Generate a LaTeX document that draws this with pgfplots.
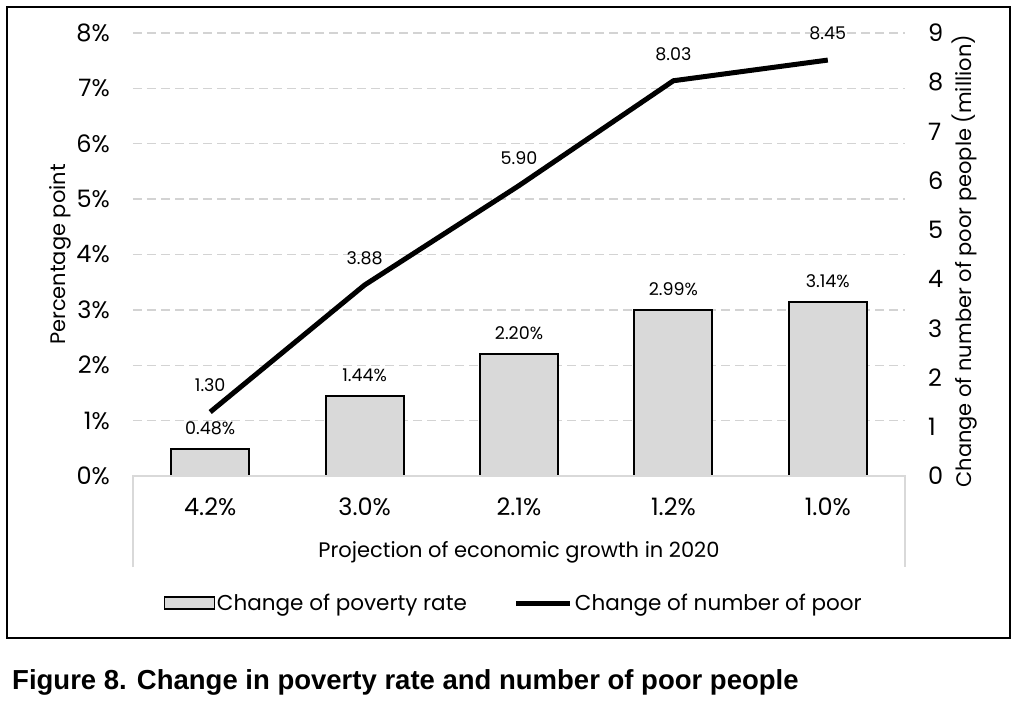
\documentclass[border=0pt]{standalone}
\usepackage{fontspec}
\setmainfont{Poppins}
\newfontfamily\capfont{Liberation Sans}
\usepackage{pgfplots}
\pgfplotsset{compat=1.18}
\definecolor{barfill}{HTML}{D9D9D9}
\definecolor{gridc}{HTML}{D3D3D3}
\definecolor{basec}{HTML}{D9D9D9}
\pgfplotsset{
  barleg/.style={legend image code/.code={\draw[#1] (0pt,-6pt) rectangle (50pt,6pt);}},
  lineleg/.style={legend image code/.code={\draw[#1] (0pt,0pt) -- (54pt,0pt);}},
}
\begin{document}
\begin{tikzpicture}
\path[use as bounding box] (-133pt,-238pt) rectangle (883pt,476pt);
\begin{axis}[
  at={(0pt,0pt)}, anchor=south west,
  scale only axis, width=772pt, height=443pt,
  xmin=-0.5, xmax=4.5, ymin=0, ymax=8,
  axis line style={draw=none}, major tick length=0pt,
  ytick={0,1,2,3,4,5,6,7,8},
  yticklabels={0\%,1\%,2\%,3\%,4\%,5\%,6\%,7\%,8\%},
  xtick={0,1,2,3,4},
  xticklabels={4.2\%,3.0\%,2.1\%,1.2\%,1.0\%},
  ymajorgrids, xmajorgrids=false,
  grid style={gridc, line width=1.3pt, dash pattern=on 9pt off 5pt},
  yticklabel style={anchor=east, inner sep=0pt, xshift=-23pt, font=\fontsize{24}{28}\selectfont},
  xticklabel style={anchor=center, inner sep=0pt, yshift=-31pt, font=\fontsize{24}{28}\selectfont},
  ylabel={Percentage point},
  ylabel style={at={(axis description cs:-0.0946,0.5)}, anchor=center, font=\fontsize{21}{24}\selectfont},
  xlabel={Projection of economic growth in 2020},
  xlabel style={at={(axis description cs:0.5,-0.1716)}, anchor=center, font=\fontsize{21}{24}\selectfont},
  ybar, bar width=78pt,
  /pgf/number format/assume math mode=true,
  nodes near coords={\pgfmathprintnumber[fixed,fixed zerofill,precision=2]{\pgfplotspointmeta}\%},
  every node near coord/.append style={anchor=center, yshift=21pt, inner sep=0pt, font=\fontsize{17.5}{20}\selectfont, text=black},
]
\addplot[fill=barfill, draw=black, line width=2pt] coordinates {(0,0.48) (1,1.44) (2,2.20) (3,2.99) (4,3.14)};
\end{axis}
\draw[basec, line width=1.5pt] (0pt,-91pt) -- (0pt,0pt) -- (772pt,0pt) -- (772pt,-91pt);
\begin{axis}[
  at={(0pt,0pt)}, anchor=south west,
  scale only axis, width=772pt, height=443pt,
  xmin=-0.5, xmax=4.5, ymin=0, ymax=9,
  axis line style={draw=none}, major tick length=0pt,
  xtick=\empty,
  ytick={0,1,2,3,4,5,6,7,8,9},
  yticklabels={0,1,2,3,4,5,6,7,8,9},
  yticklabel pos=right,
  yticklabel style={anchor=west, inner sep=0pt, xshift=23pt, font=\fontsize{24}{28}\selectfont},
  ylabel={Change of number of poor people (million)},
  ylabel style={at={(axis description cs:1.0777,0.4848)}, anchor=center, rotate=0, font=\fontsize{21}{24}\selectfont},
  /pgf/number format/assume math mode=true,
  legend columns=2,
  legend style={at={(axis description cs:0.493,-0.2867)}, anchor=center, draw=none, fill=none,
    font=\fontsize{21.5}{24}\selectfont,
    nodes={inner sep=2pt},
    /tikz/every even column/.append style={column sep=45pt}},
]
\addlegendimage{fill=barfill, draw=black, line width=1.5pt, barleg}
\addlegendentry{Change of poverty rate}
\addplot[black, line width=5pt, mark=none, lineleg,
  nodes near coords={\pgfmathprintnumber[fixed,fixed zerofill,precision=2]{\pgfplotspointmeta}},
  every node near coord/.append style={anchor=center, yshift=27pt, inner sep=0pt, font=\fontsize{17.5}{20}\selectfont, text=black},
] coordinates {(0,1.30) (1,3.88) (2,5.90) (3,8.03) (4,8.45)};
\addlegendentry{Change of number of poor}
\end{axis}
\draw[black, line width=2pt] (-126pt,469pt) rectangle (877pt,-162pt);
\node[anchor=base west, inner sep=0pt, font=\capfont\bfseries\fontsize{27.5}{31}\selectfont] at (-121pt,-213pt) {Figure 8. Change in poverty rate and number of poor people};
\end{tikzpicture}
\end{document}
